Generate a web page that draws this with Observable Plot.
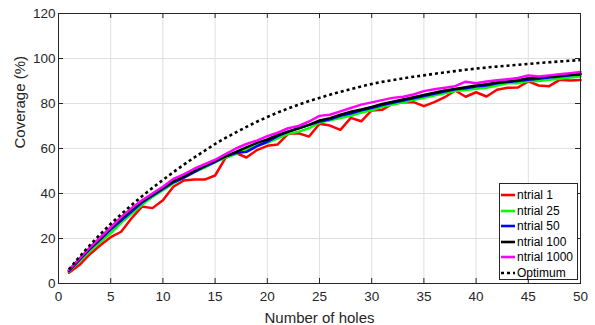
<!DOCTYPE html>
<html><head><meta charset="utf-8">
<script src="https://cdn.jsdelivr.net/npm/d3@7"></script>
<script src="https://cdn.jsdelivr.net/npm/@observablehq/plot@0.6"></script>
<style>
body{margin:0;background:#fff;}
#wrap{position:relative;width:595px;height:325px;font-family:"Liberation Sans",Arial,Helvetica,sans-serif;}
#legend{position:absolute;left:499px;top:183px;width:79px;height:97px;border:1px solid #262626;background:#fff;box-sizing:border-box;}
.row{position:absolute;left:1px;height:16px;display:flex;align-items:center;font-size:12px;color:#000;white-space:nowrap;}
.row svg{margin-right:2px;}
</style></head><body><div id="wrap"></div>
<script>
const holes = [1,2,3,4,5,6,7,8,9,10,11,12,13,14,15,16,17,18,19,20,21,22,23,24,25,26,27,28,29,30,31,32,33,34,35,36,37,38,39,40,41,42,43,44,45,46,47,48,49,50];
const ntrial1 = [4.8,8.2,13,17,20.6,23,29,34.2,33.5,37, 43,45.8,46.2,46.2,48,55.8,58,56,59.3,61.2, 61.8,66.5,66.8,65.3,71,70.2,68.3,73.6,72.1,76.9, 77.2,79.9,80.6,80.6,78.8,80.6,82.8,85.8,83,85, 83.1,86.1,87,87.1,89.8,88,87.7,90.5,90.2,90.4];
const ntrial25 = [5.3,9.8,14.3,18.4,22.3,27,31,35,38.5,41.5, 44.5,47,49.5,51.5,54,56,57.5,59.5,61.5,62.5, 64.5,66.5,67.5,69,71.5,72.5,73.5,74.5,76,77, 78.5,79.5,80.5,81.5,82.5,83.5,84.5,85.5,86,86.5, 87,88,89,89,90,90,90.5,91,91.5,92];
const ntrial50 = [5.5,10.5,15.3,19.5,24,28,32,36,39,42, 45,47,49.5,52,54,56.5,58,58.5,61,63, 65.5,67.5,69,70.5,72,73,74.5,75.5,77,78, 79.3,80.3,81.3,82.3,83.3,84.3,85.3,86.3,86.8,87.5, 88,89,89.5,90,90.5,91,91.5,92,92.5,93];
const ntrial100 = [5.8,10.8,15.7,20,24.5,29,33,36.5,39.5,42.5, 45.5,47.5,50,52.3,54.5,56.5,58.5,60.5,62.5,64, 66,67.5,69,70.5,72.5,73.5,75,76.3,77.3,78.5, 79.8,80.8,81.8,82.8,83.8,84.8,85.8,86.5,87.2,88, 88.6,89.3,89.8,90.3,91.2,91.5,91.9,92.3,92.7,93];
const ntrial1000 = [6,11,16,20.5,25,29.5,33.5,37,40,43, 46.5,48.5,51,53,55,57.5,60,62,63.5,65.5, 67,69,70,72,74.5,75,76.5,78,79.5,80.5, 81.5,82.5,83,84,85.5,86.3,87,87.7,89.7,89, 89.8,90.3,90.8,91.3,92.5,92,92.5,93,93.5,94];
const optimum = [6.3,11.8,17,21.9,26.5,30.8,34.9,38.8,42.5,46, 49.5,52.8,56,59,62,64.7,67.2,69.6,71.9,74, 76,77.8,79.5,81.1,82.5,83.9,85.2,86.4,87.6,88.7, 89.6,90.4,91.2,91.9,92.5,93.2,93.8,94.4,95,95.5, 96,96.4,96.8,97.2,97.6,98,98.3,98.7,99,99.3];
const seriesNames = ["ntrial 1","ntrial 25","ntrial 50","ntrial 100","ntrial 1000","Optimum"];
const seriesColors = ["#ff0000","#00ff00","#0000ff","#000000","#ff00ff","#000000"];
const xTicks = [0,5,10,15,20,25,30,35,40,45,50];
const yTicks = [0,20,40,60,80,100,120];
const xLabel = "Number of holes";
const yLabel = "Coverage (%)";

const allSeries = [ntrial1, ntrial25, ntrial50, ntrial100, ntrial1000, optimum];
const rows = allSeries.flatMap((vals, si) => vals.map((v, i) => ({x: holes[i], y: v, s: seriesNames[si]})));

const W = 595, H = 325, mL = 58, mR = 15, mT = 13, mB = 42;
const fw = W - mL - mR, fh = H - mT - mB;
const ink = "#262626";

const lineMarks = seriesNames.slice(0, 5).map((name, i) =>
  Plot.line(rows.filter(d => d.s === name), {x: "x", y: "y", stroke: seriesColors[i], strokeWidth: 2.5, strokeLinejoin: "round"}));

const chart = Plot.plot({
  width: W, height: H,
  marginLeft: mL, marginRight: mR, marginTop: mT, marginBottom: mB,
  style: {fontFamily: '"Liberation Sans", Arial, Helvetica, sans-serif', fontSize: "13.5px", background: "#fff", color: ink},
  x: {domain: [0, 50], ticks: xTicks},
  y: {domain: [0, 120], ticks: yTicks},
  marks: [
    Plot.ruleX(xTicks, {stroke: "#dfdfdf", strokeWidth: 1}),
    Plot.ruleY(yTicks, {stroke: "#dfdfdf", strokeWidth: 1}),
    ...lineMarks,
    Plot.line(rows.filter(d => d.s === "Optimum"), {x: "x", y: "y", stroke: seriesColors[5], strokeWidth: 2.6, strokeDasharray: "3,3", strokeLinecap: "butt"}),
    Plot.tickX(xTicks, {x: d => d, stroke: ink, insetTop: fh - 5}),
    Plot.tickX(xTicks, {x: d => d, stroke: ink, insetBottom: fh - 5}),
    Plot.tickY(yTicks, {y: d => d, stroke: ink, insetRight: fw - 5}),
    Plot.tickY(yTicks, {y: d => d, stroke: ink, insetLeft: fw - 5}),
    Plot.frame({stroke: ink, strokeWidth: 1}),
    Plot.axisX(xTicks, {tickSize: 0, tickPadding: 8, label: null, fill: ink, fontSize: 13.5}),
    Plot.axisY(yTicks, {tickSize: 0, tickPadding: 3, label: null, fill: ink, fontSize: 13.5}),
    Plot.text([xLabel], {frameAnchor: "bottom", dy: 34.5, lineAnchor: "middle", fontSize: 15, fill: ink}),
    Plot.text([yLabel], {frameAnchor: "left", dx: -38, rotate: -90, lineAnchor: "middle", fontSize: 15, fill: ink})
  ]
});
const wrap = document.getElementById("wrap");
wrap.appendChild(chart);

// Legend
const legend = document.createElement("div");
legend.id = "legend";
seriesNames.forEach((name, i) => {
  const row = document.createElement("div");
  row.className = "row";
  row.style.top = (3 + i * 15.5) + "px";
  const dash = name === "Optimum" ? 'stroke-dasharray="3,3"' : "";
  row.innerHTML = `<svg width="14" height="6"><line x1="0" y1="3" x2="14" y2="3" stroke="${seriesColors[i]}" stroke-width="2.6" ${dash}/></svg><span>${name}</span>`;
  legend.appendChild(row);
});
wrap.appendChild(legend);
</script>
</body></html>
